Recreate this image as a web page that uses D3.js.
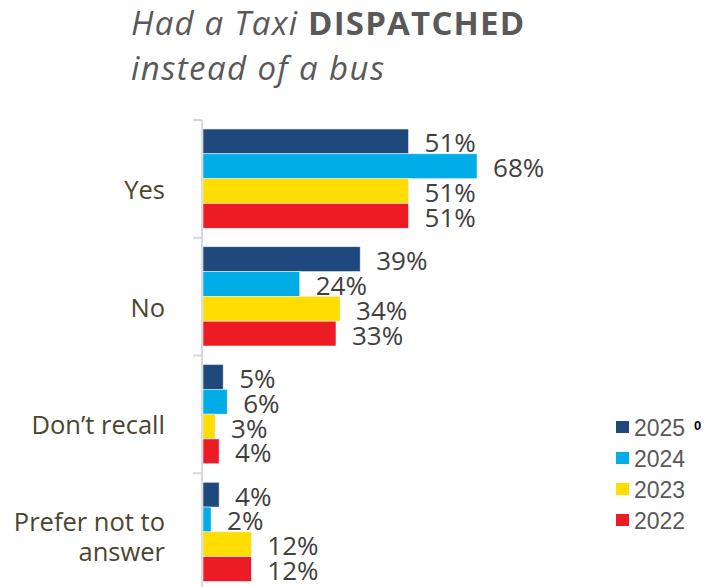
<!DOCTYPE html>
<html>
<head>
<meta charset="utf-8">
<script src="https://cdn.jsdelivr.net/npm/d3@7"></script>
<style>
  html, body { margin: 0; padding: 0; background: #ffffff; }
  svg { display: block; }
</style>
</head>
<body>
<svg id="chart" width="710" height="587"></svg>
<script>
// Response categories (top to bottom) and survey years
const categories = ["Yes", "No", "Don’t recall", "Prefer not to answer"];
const years = ["2025", "2024", "2023", "2022"];

// Percent of respondents per year, in category order
const values2025 = [51, 39, 5, 4];
const values2024 = [68, 24, 6, 2];
const values2023 = [51, 34, 3, 12];
const values2022 = [51, 33, 4, 12];

const seriesValues = [values2025, values2024, values2023, values2022];
const colors = ["#1f497d", "#00ade6", "#ffdd00", "#ed1c24"];

const svg = d3.select("#chart");

// Title: italic with a bold keyword, two lines
const title = svg.append("text")
  .attr("x", 131)
  .attr("y", 35)
  .attr("fill", "#595959")
  .style("font-family", "'Open Sans', sans-serif")
  .style("font-size", "33px")
  .style("letter-spacing", "1.2px");
title.append("tspan").style("font-style", "italic").text("Had a Taxi ");
title.append("tspan").style("font-weight", "bold").text("DISPATCHED");
svg.append("text")
  .attr("x", 131)
  .attr("y", 80)
  .attr("fill", "#595959")
  .style("font-family", "'Open Sans', sans-serif")
  .style("font-size", "33px")
  .style("letter-spacing", "1.4px")
  .style("font-style", "italic")
  .text("instead of a bus");

// Scales
const x = d3.scaleLinear().domain([0, 100]).range([203, 606]);
const y = d3.scaleBand().domain(categories).range([120, 591]);
const inner = d3.scaleBand().domain(years)
  .range([9, y.bandwidth() - 9.5]);

// Category axis on the left
const axis = d3.axisLeft(y).tickSize(9).tickSizeOuter(0).tickFormat("");
const axisG = svg.append("g")
  .attr("transform", `translate(${x(0) - 1},0)`)
  .call(axis);
axisG.select(".domain").attr("stroke", "#d9d9d9").attr("stroke-width", 2)
  .attr("d", `M0,120V587`);
axisG.selectAll(".tick line")
  .attr("stroke", "#d9d9d9").attr("stroke-width", 2)
  .attr("transform", `translate(0,${-y.bandwidth() / 2})`);

// Category labels (wrap "Prefer not to answer" onto two lines)
const catLines = {
  "Yes": ["Yes"],
  "No": ["No"],
  "Don’t recall": ["Don’t recall"],
  "Prefer not to answer": ["Prefer not to", "answer"]
};
categories.forEach(c => {
  const lines = catLines[c];
  const cy = y(c) + y.bandwidth() / 2;
  const shift = lines.length > 1 ? 14 : 20;
  const t = svg.append("text")
    .attr("text-anchor", "end")
    .attr("fill", "#4b4530")
    .style("font-family", "'Open Sans', sans-serif")
    .style("font-size", "25.5px");
  lines.forEach((ln, i) => {
    t.append("tspan")
      .attr("x", 165)
      .attr("y", cy + shift + (i - (lines.length - 1) / 2) * 30)
      .text(ln);
  });
});

// Bars and value labels
const rows = [];
years.forEach((yr, si) => {
  categories.forEach((c, ci) => {
    rows.push({ year: yr, cat: c, value: seriesValues[si][ci], color: colors[si] });
  });
});

const barG = svg.append("g");
barG.selectAll("rect").data(rows).join("rect")
  .attr("x", x(0))
  .attr("y", d => y(d.cat) + inner(d.year))
  .attr("width", d => x(d.value) - x(0))
  .attr("height", inner.bandwidth())
  .attr("fill", d => d.color)
  .attr("stroke", "#e8eef6")
  .attr("stroke-width", 0.6);

barG.selectAll("text").data(rows).join("text")
  .attr("x", d => x(d.value) + 16)
  .attr("y", d => y(d.cat) + inner(d.year) + inner.bandwidth() / 2 + 11)
  .attr("fill", "#404040")
  .style("font-family", "'Open Sans', sans-serif")
  .style("font-size", "26px")
  .text(d => d.value + "%");

// Legend
const legend = svg.append("g");
years.forEach((yr, i) => {
  const cy = 427 + i * 31;
  legend.append("rect")
    .attr("x", 616).attr("y", cy - 6)
    .attr("width", 13).attr("height", 12)
    .attr("fill", colors[i]);
  legend.append("text")
    .attr("x", 634).attr("y", cy + 9)
    .attr("fill", "#595959")
    .style("font-family", "'Liberation Sans', Arial, sans-serif")
    .style("font-size", "23px")
    .text(yr);
});
legend.append("text")
  .attr("x", 694).attr("y", 430)
  .attr("fill", "#000000")
  .style("font-family", "'Liberation Sans', Arial, sans-serif")
  .style("font-size", "13px")
  .style("font-weight", "bold")
  .text("0");
</script>
</body>
</html>
